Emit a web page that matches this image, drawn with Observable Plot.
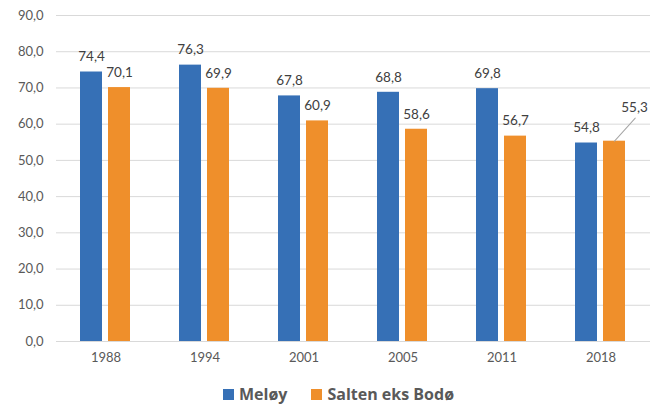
<!DOCTYPE html>
<html>
<head>
<meta charset="utf-8">
<script src="https://cdn.jsdelivr.net/npm/d3@7"></script>
<script src="https://cdn.jsdelivr.net/npm/@observablehq/plot@0.6"></script>
<style>
  body { margin: 0; background: #fff; font-family: Lato, "Open Sans", sans-serif; }
  #wrap { width: 660px; height: 407px; position: relative; }
  #legend { position: absolute; left: 223px; top: 383px; display: flex; align-items: center; font-family: "Open Sans", sans-serif; font-weight: bold; font-size: 16px; color: #595959; white-space: nowrap; }
  #legend .sw { width: 11px; height: 11px; display: inline-block; margin-right: 5px; }
  #legend .item { display: flex; align-items: center; margin-right: 24px; }
</style>
</head>
<body>
<div id="wrap"><div id="chart"></div><div id="legend"></div></div>
<script>
const years = ["1988", "1994", "2001", "2005", "2011", "2018"];
const series = ["Meløy", "Salten eks Bodø"];
const meloy = [74.4, 76.3, 67.8, 68.8, 69.8, 54.8];
const salten = [70.1, 69.9, 60.9, 58.6, 56.7, 55.3];
const yTicks = [0, 10, 20, 30, 40, 50, 60, 70, 80, 90];
const colors = ["#3670B6", "#EF8F2B"];

const data = [];
years.forEach((y, i) => {
  data.push({year: y, series: series[0], value: meloy[i]});
  data.push({year: y, series: series[1], value: salten[i]});
});
const fmt = v => v.toFixed(1).replace(".", ",");
const isShifted = d => d.year === "2018" && d.series === series[1];

const plot = Plot.plot({
  width: 660,
  height: 370,
  marginLeft: 54,
  marginRight: 9,
  marginTop: 15,
  marginBottom: 29,
  style: {fontFamily: "Lato, 'Open Sans', sans-serif", fontSize: "13px", color: "#595959", background: "#fff"},
  fx: {domain: years, paddingInner: 0, paddingOuter: 0, label: null, tickSize: 0, tickPadding: 11},
  x: {domain: series, paddingInner: 0.2105, paddingOuter: 0.851, axis: null},
  y: {domain: [0, 90], ticks: yTicks, tickFormat: fmt, tickSize: 0, tickPadding: 13, label: null},
  color: {domain: series, range: colors},
  marks: [
    Plot.ruleY(yTicks, {stroke: "#d9d9d9", strokeWidth: 1}),
    Plot.barY(data, {fx: "year", x: "series", y: "value", fill: "series"}),
    Plot.text(data.filter(d => !isShifted(d)), {fx: "year", x: "series", y: "value", text: d => fmt(d.value), dy: -15, lineAnchor: "middle", fill: "#404040", fontSize: 13.5}),
    Plot.text(data.filter(isShifted), {fx: "year", x: "series", y: "value", text: d => fmt(d.value), dx: 20, dy: -34, lineAnchor: "middle", fill: "#404040", fontSize: 13.5}),
    Plot.vector(data.filter(isShifted), {fx: "year", x: "series", y: "value", length: 31, rotate: 42, anchor: "start", stroke: "#a6a6a6", strokeWidth: 1,
      shape: {draw(ctx, l) { ctx.moveTo(0, 0); ctx.lineTo(0, -l); }}})
  ]
});
document.getElementById("chart").appendChild(plot);

const legend = document.getElementById("legend");
series.forEach((s, i) => {
  const it = document.createElement("div");
  it.className = "item";
  const sw = document.createElement("span");
  sw.className = "sw";
  sw.style.background = colors[i];
  const t = document.createElement("span");
  t.textContent = s;
  it.appendChild(sw);
  it.appendChild(t);
  legend.appendChild(it);
});
</script>
</body>
</html>
